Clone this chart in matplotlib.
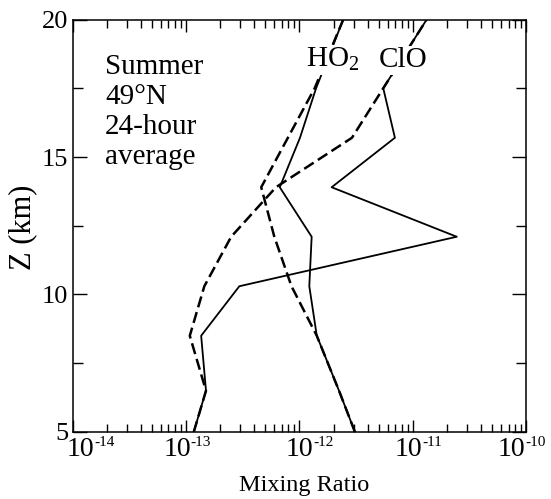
import matplotlib
matplotlib.use('Agg')
import matplotlib.pyplot as plt

plt.rcParams['font.family'] = ['Liberation Serif', 'DejaVu Serif']
plt.rcParams['mathtext.fontset'] = 'custom'
plt.rcParams['mathtext.rm'] = 'Liberation Serif'
plt.rcParams['mathtext.it'] = 'Liberation Serif:italic'
plt.rcParams['axes.unicode_minus'] = False

## altitude levels (km)
z_km = [5.0, 6.5, 8.5, 10.3, 12.1, 13.9, 15.7, 17.5, 20.0]

## mixing ratios
ho2_solid = [3.08e-12, 2.23e-12, 1.42e-12, 1.22e-12, 1.28e-12, 6.7e-13, 1.01e-12, 1.40e-12, 2.43e-12]
ho2_dashed = [3.08e-12, 2.23e-12, 1.42e-12, 8.5e-13, 6.0e-13, 4.6e-13, 7.9e-13, 1.36e-12, 2.43e-12]
clo_solid = [1.17e-13, 1.50e-13, 1.36e-13, 2.95e-13, 2.43e-11, 1.92e-12, 6.93e-12, 5.47e-12, 1.32e-11]
clo_dashed = [1.17e-13, 1.50e-13, 1.08e-13, 1.45e-13, 2.5e-13, 6.2e-13, 2.9e-12, 5.47e-12, 1.32e-11]

x_exponents = [-14, -13, -12, -11, -10]
y_ticks = [5, 10, 15, 20]
notes = ['Summer', '49°N', '24-hour', 'average']

# hand placed label nudges (points), as in the original figure
label_shift = [5.5, -6.5, 0, -3.5, -10.5]


def plot():
    fig = plt.figure(figsize=(5.51, 4.99), dpi=100)
    ax = fig.add_axes([0.1316, 0.1343, 0.8239, 0.8266])

    ax.plot(ho2_solid, z_km, color='black', lw=1.3)
    ax.plot(clo_solid, z_km, color='black', lw=1.3)
    ax.plot(ho2_dashed, z_km, color='black', lw=1.8, linestyle=(0, (4.5, 2)))
    ax.plot(clo_dashed, z_km, color='black', lw=1.8, linestyle=(0, (4.5, 2)))

    ax.set_xscale('log')
    ax.set_xlim(10.0 ** x_exponents[0], 10.0 ** x_exponents[-1])
    ax.set_ylim(5, 20)
    ax.set_yticks(y_ticks)
    ax.set_yticks([7.5, 12.5, 17.5], minor=True)
    ax.set_xticks([10.0 ** e for e in x_exponents])
    ax.set_xticklabels([])

    ax.tick_params(which='both', direction='in', top=True, right=True, labelsize=19)
    ax.tick_params(axis='x', which='major', length=8.5, width=1)
    ax.tick_params(axis='x', which='minor', length=5.5, width=1)
    ax.tick_params(axis='y', which='major', length=10, width=1, pad=3)
    ax.tick_params(axis='y', which='minor', length=7, width=1)
    for s in ax.spines.values():
        s.set_linewidth(1.1)

    # x tick labels: big "10" with a small exponent
    for e, dx in zip(x_exponents, label_shift):
        ax.annotate('10', xy=(10.0 ** e, 0), xycoords=('data', 'axes fraction'),
                    xytext=(dx, -3.5), textcoords='offset points',
                    ha='center', va='top', fontsize=20, annotation_clip=False)
        ax.annotate('-%d' % abs(e), xy=(10.0 ** e, 0), xycoords=('data', 'axes fraction'),
                    xytext=(dx + 10, -3), textcoords='offset points',
                    ha='left', va='top', fontsize=11, annotation_clip=False)

    ax.set_xlabel('Mixing Ratio', fontsize=17.5)
    ax.xaxis.set_label_coords(0.51, -0.104)
    ax.set_ylabel('Z (km)', fontsize=22)
    ax.yaxis.set_label_coords(-0.078, 0.497)

    for i, line in enumerate(notes):
        ax.annotate(line, xy=(0.072, 0.868), xycoords='axes fraction',
                    xytext=(0, -21.5 * i), textcoords='offset points',
                    ha='left', va='baseline', fontsize=21)

    lbl = dict(fontsize=21, ha='center', va='baseline', zorder=5,
               bbox=dict(facecolor='white', edgecolor='none', pad=1))
    ax.text(1.95e-12, 18.27, 'HO$_2$', **lbl)
    ax.text(8.2e-12, 18.27, 'ClO', **lbl)

    plt.savefig('out.png', dpi=100)


if __name__ == '__main__':
    plot()
